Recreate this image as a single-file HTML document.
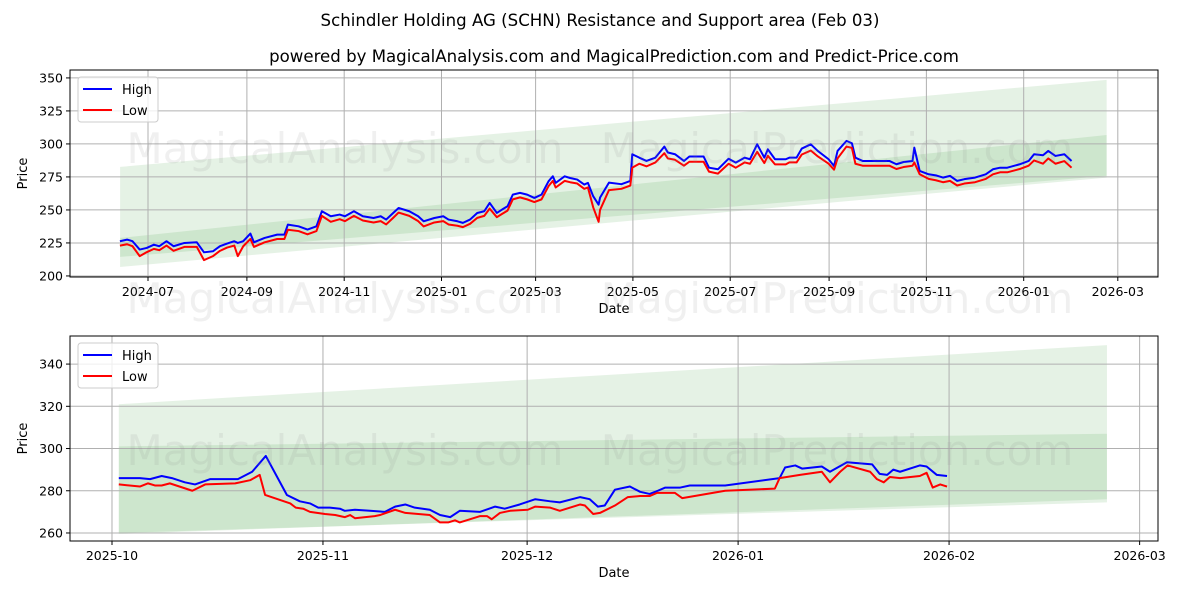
<!DOCTYPE html>
<html><head><meta charset="utf-8"><style>
body{margin:0;background:#fff;width:1200px;height:600px;overflow:hidden;font-family:"Liberation Sans","DejaVu Sans",sans-serif}
svg text{font-family:"DejaVu Sans","Liberation Sans",sans-serif}
</style></head><body>
<svg id="fig" width="1200" height="600" xmlns="http://www.w3.org/2000/svg">
<text x="600" y="26" text-anchor="middle" font-size="16.6">Schindler Holding AG (SCHN) Resistance and Support area (Feb 03)</text>
<text x="614" y="62" text-anchor="middle" font-size="16.6">powered by MagicalAnalysis.com and MagicalPrediction.com and Predict-Price.com</text>
</svg>
<script>
// ---- top chart data (days from 2024-07-01) ----
const topDays=[-17.6,-13.1,-9.7,-5.2,-0.8,3.7,7.1,11.6,16.0,22.8,30.6,35.1,40.7,45.1,49.6,54.1,56.3,59.7,64.2,66.4,73.1,81.0,85.5,87.7,94.4,100.0,105.6,109.0,114.6,120.2,123.5,129.1,134.7,141.4,145.9,149.3,153.7,157.1,163.8,169.4,172.8,179.5,185.1,188.4,194.0,197.4,201.9,206.4,210.8,214.2,218.7,222.0,225.4,228.7,233.2,237.7,242.2,246.7,251.1,253.8,255.6,261.2,264.6,269.1,273.5,275.8,279.1,282.5,
283.4,289.0,296.8,302.4,303.6,308.0,312.5,318.1,323.7,325.9,330.4,336.0,339.4,348.3,351.7,357.3,364.0,368.5,374.1,377.4,381.9,386.4,388.6,393.1,399.8,402.1,406.6,409.9,415.5,420.0,426.7,430.1,432.3,437.9,441.3,443.5,448.0,453.6,464.8,469.2,473.7,479.3,480.4,483.8,489.4,493.9,498.4,502.8,507.3,511.8,518.5,525.2,529.7,534.2,538.7,546.5,552.1,555.5,561.1,564.4,568.9,574.5,579.0];
const topHigh=[226.3,227.5,226.3,220,221.2,223.7,222.5,226.3,222.5,225,225.5,217.9,218.7,222.5,224.5,226.3,225,226.3,232.1,225.5,228.8,231.3,231.3,238.9,237.6,235.1,237.6,249,245.2,246.5,245.2,249,245.2,243.9,245.2,242.7,247.7,251.5,249,245.2,241.4,243.9,245.2,242.7,241.4,240.2,242.7,247.7,249,255.3,247.7,250.3,252.8,261.6,262.9,261.6,259.1,261.6,271.7,275.5,270.5,275.5,274.2,273,269.2,270.5,260.4,254,
259.3,270.7,269.5,272,292.2,289.6,287.1,289.6,298,293.5,292.2,287.1,290.5,290.5,282,280.8,288.8,285.8,289.6,288.4,299.7,289.6,295.9,288.4,288.4,289.6,289.6,296.5,299.7,294.6,288.4,283.3,294.7,302.3,300.5,289.6,287.1,287.1,287.1,284.6,286.3,287.1,297.2,279.5,277,276.2,274.5,275.8,272,273.3,274.5,277,280.8,282,282,284.6,287.1,292.2,291.4,294.7,290.9,292.2,287.1];
const topLow=[223,224,222.5,215,218,220.5,219.5,223,219,222,222,212,215,219,221.5,223,215,222.5,228,222,225.5,228,228,235,234,231.5,234,245.5,241,243,241.5,245.5,242,240.5,241.5,239,244,248,245.5,241.5,237.5,240.5,241.5,239,238,237,239.5,244,245.5,251,244.5,247,249.5,258,259.5,258,256,258,268,272,267,272,271,270,266,267,252,241,
250,265,266,268.5,282,285,283,286,293,289,288,283.5,286.5,286.5,279,277.5,285,282,286,285,294,285.5,291,284.5,284.5,286,286,292,295,290.5,285,280.5,289,298,297,285,283.5,283.5,283.5,281,282.5,283.5,286,277,273.5,272.5,271,272,268.5,270,271,273.5,277,278.5,278.5,281,283.5,287.5,285,289,285,287,282];
const topBandDays=[-17.5,601];
const topOuterHi=[282.6,348.5], topOuterLo=[206.8,274.5];
const topInnerHi=[228.8,306.8], topInnerLo=[214.4,275.8];
const topYTicks=[200,225,250,275,300,325,350];
const topXTicks=["2024-07","2024-09","2024-11","2025-01","2025-03","2025-05","2025-07","2025-09","2025-11","2026-01","2026-03"];
// ---- bottom chart data (days from 2025-10-01) ----
const botHighDays=[1.0,4.1,5.6,7.3,8.8,10.7,12.2,14.4,18.5,20.6,22.6,25.7,27.6,29.1,30.3,32.0,33.5,34.2,35.7,37.9,40.1,41.6,43.1,44.5,46.7,48.2,49.7,51.1,54.1,56.3,57.7,59.9,62.2,64.4,65.8,68.8,70.2,71.4,72.4,73.9,76.1,77.6,79.0,80.2,81.3,83.5,84.9,90.1,98.1,98.9,100.4,101.4,104.3,105.5,108.0,111.7,112.8,113.9,114.8,115.8,118.7,119.7,121.2,122.7];
const botHigh=[286,286,285.5,287,286,284,283,285.5,285.5,289,296.5,278,275,274,272,272,271.5,270.5,271,270.5,270,272.5,273.5,272,271,268.5,267.5,270.5,270,272.5,271.5,273.5,276,275,274.5,277,276,272.5,273,280.5,282,279.5,278.5,280,281.5,281.5,282.5,282.5,286,291,292,290.5,291.5,289,293.5,292.5,288,287.5,290,289,292,291.5,287.5,287];
const botLowDays=[1.0,4.1,5.3,6.3,7.3,8.5,11.8,13.7,18.1,20.3,21.7,22.5,26.2,27.0,28.1,29.1,31.3,32.8,34.2,35.0,35.7,38.6,39.4,41.6,43.1,46.7,48.2,49.4,50.4,51.1,54.1,55.1,55.8,57.0,58.5,61.1,62.2,64.4,65.8,68.8,69.5,70.7,71.7,73.9,75.8,77.6,79.0,80.1,82.7,83.8,90.1,97.4,98.1,101.1,104.3,105.5,107.0,108.1,111.4,112.4,113.4,114.3,115.8,118.7,119.7,120.6,121.7,122.7];
const botLow=[283,282,283.5,282.5,282.5,283.5,280,283,283.5,285,287.5,278,274,272,271.5,270,269,268.5,267.5,268.5,267,268,268.5,271,269.5,268.5,265,265,266,265,268,268,266.5,269.5,270.5,271,272.5,272,270.5,273.5,273,269,269.5,273,277,277.5,277.5,279,279,276.5,280,281,286,287.5,289,284,289,292,289,285.5,284,286.5,286,287,288.5,281.5,283,282];
const botBandDays=[1.0,146.2];
const botOuterHi=[321,349], botOuterLo=[260,274.5];
const botInnerHi=[301,307], botInnerLo=[259.5,276];
const botYTicks=[260,280,300,320,340];
const botXTicks=["2025-10","2025-11","2025-12","2026-01","2026-02","2026-03"];

const NS="http://www.w3.org/2000/svg";
const fig=document.getElementById('fig');
function mk(tag,attrs,parent){const e=document.createElementNS(NS,tag);for(const k in attrs)e.setAttribute(k,attrs[k]);(parent||fig).appendChild(e);return e;}
function dayOf(label,base){const [y,m]=label.split('-').map(Number);return (Date.UTC(y,m-1,1)-Date.UTC(base[0],base[1]-1,base[2]))/86400000;}

function chart(o){
  const L=70,R=1158,T=o.top,B=o.bottom;
  const sx=d=>L+(d-o.x0)/(o.x1-o.x0)*(R-L);
  const sy=v=>B-(v-o.y0)/(o.y1-o.y0)*(B-T);
  const g=mk('g',{});
  
  
  function band(hi,lo,nm){
    const d=o.bandDays;
    const pts=[[sx(d[0]),sy(hi[0])],[sx(d[1]),sy(hi[1])],[sx(d[1]),sy(lo[1])],[sx(d[0]),sy(lo[0])]];
    const p=mk('polygon',{points:pts.map(q=>q.join(',')).join(' '),fill:'green','fill-opacity':0.1},g);
    
    
  }
  band(o.outerHi,o.outerLo,'resistance-support-outer-band');
  band(o.innerHi,o.innerLo,'resistance-support-inner-band');
  o.yTicks.forEach(v=>{
    const y=sy(v);
    const ln=mk('line',{x1:L,x2:R,y1:y,y2:y,stroke:'#b0b0b0','stroke-width':1},g);
    
    
    mk('line',{x1:L-4,x2:L,y1:y,y2:y,stroke:'#000'},g);
    const t=mk('text',{x:L-7,y:y+4.5,'text-anchor':'end','font-size':12.5},g);
    t.textContent=v;
    
    
  });
  o.xTicks.forEach(lbl=>{
    const x=sx(dayOf(lbl,o.base));
    const ln=mk('line',{x1:x,x2:x,y1:T,y2:B,stroke:'#b0b0b0','stroke-width':1},g);
    
    
    mk('line',{x1:x,x2:x,y1:B,y2:B+4,stroke:'#000'},g);
    const t=mk('text',{x:x,y:B+19,'text-anchor':'middle','font-size':12.5},g);
    t.textContent=lbl;
    
    
  });
  function line(days,vals,col,nm){
    const p=mk('polyline',{points:days.map((d,i)=>sx(d)+','+sy(vals[i])).join(' '),fill:'none',stroke:col,'stroke-width':2,'stroke-linejoin':'round'},g);
    
    
  }
  line(o.highDays,o.high,'#0000ff','high-line');
  line(o.lowDays,o.low,'#ff0000','low-line');
  const fr=mk('rect',{x:L,y:T,width:R-L,height:B-T,fill:'none',stroke:'#000','stroke-width':1},g);
  
  
  const xl=mk('text',{x:(L+R)/2,y:B+36,'text-anchor':'middle','font-size':13},g);
  xl.textContent='Date';
  
  
  const yl=mk('text',{x:27,y:(T+B)/2,'text-anchor':'middle','font-size':13,transform:`rotate(-90 27 ${(T+B)/2})`},g);
  yl.textContent='Price';
  
  
  const lg=mk('g',{},g);
  
  
  mk('rect',{x:78,y:T+7,width:80,height:45,rx:3,fill:'#fff','fill-opacity':0.8,stroke:'#ccc'},lg);
  [['High','#0000ff'],['Low','#ff0000']].forEach((e,i)=>{
    const y=T+19+i*21;
    mk('line',{x1:83,x2:112,y1:y,y2:y,stroke:e[1],'stroke-width':2},lg);
    const t=mk('text',{x:122,y:y+5,'font-size':13},lg);
    t.textContent=e[0];
    
    
  });
}
chart({name:'top-chart',top:70,bottom:277,x0:-48.9,x1:633.2,y0:199.2,y1:356,base:[2024,7,1],
  bandDays:topBandDays,outerHi:topOuterHi,outerLo:topOuterLo,innerHi:topInnerHi,innerLo:topInnerLo,
  yTicks:topYTicks,xTicks:topXTicks,highDays:topDays,high:topHigh,lowDays:topDays,low:topLow});
chart({name:'bottom-chart',top:336,bottom:541,x0:-6.17,x1:153.7,y0:256.2,y1:353.3,base:[2025,10,1],
  bandDays:botBandDays,outerHi:botOuterHi,outerLo:botOuterLo,innerHi:botInnerHi,innerLo:botInnerLo,
  yTicks:botYTicks,xTicks:botXTicks,highDays:botHighDays,high:botHigh,lowDays:botLowDays,low:botLow});
[[148,'top'],[298,'middle'],[450,'bottom']].forEach(w=>{
  [['MagicalAnalysis.com',345],['MagicalPrediction.com',837]].forEach(m=>{
    const t=mk('text',{x:m[1],y:w[0]+15,'text-anchor':'middle','font-size':42,fill:'#888','fill-opacity':0.13});
    t.textContent=m[0];
    
    
  });
});
</script>
</body></html>
